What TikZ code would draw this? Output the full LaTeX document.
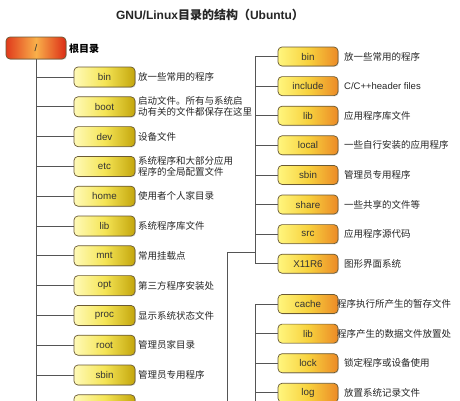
\documentclass[tikz,border=0pt]{standalone}
\usepackage{fontspec}
\setsansfont{Liberation Sans}
\newfontfamily\cjk{Noto Sans CJK SC}
\usetikzlibrary{shadows}
\definecolor{yl1}{HTML}{FFFAB8}
\definecolor{yl2}{HTML}{F5E556}
\definecolor{yl3}{HTML}{C4A60C}
\definecolor{yr1}{HTML}{FFF67E}
\definecolor{yr2}{HTML}{F8D23E}
\definecolor{yr3}{HTML}{EC8A26}
\definecolor{rt1}{HTML}{E03A1C}
\definecolor{rt2}{HTML}{F9B04A}
\definecolor{rt3}{HTML}{DC2C16}
\definecolor{boxline}{HTML}{6A5A34}
\definecolor{linegray}{HTML}{555555}
\begin{document}
\begin{tikzpicture}[x=1pt,y=-1pt,
  dirbox/.style={draw=boxline, line width=0.7pt, rounded corners=4pt,
    minimum width=61pt, minimum height=20pt, inner sep=0pt,
    font=\sffamily\fontsize{9.8}{11}\selectfont, text=black!80,
    drop shadow={shadow xshift=0.8pt, shadow yshift=-0.8pt, opacity=0.3}},
  lbox/.style={dirbox, left color=yl1, right color=yl3, middle color=yl2},
  rbox/.style={dirbox, minimum width=60pt, minimum height=19pt,
    left color=yr1, right color=yr3, middle color=yr2},
  rootbox/.style={dirbox, minimum width=60pt, minimum height=22pt,
    left color=rt1, right color=rt3, middle color=rt2},
  desc/.style={anchor=west, inner sep=1pt, align=left,
    font=\cjk\fontsize{9.5}{11}\selectfont, text=black!85},
  conn/.style={draw=linegray, line width=0.8pt}]
\useasboundingbox (0,0) rectangle (460,400);
\fill[white] (0,0) rectangle (460,400);
\clip (0,0) rectangle (460,400);

% title
\node[text=black!85] (title) at (210,15)
  {\sffamily\bfseries\fontsize{12}{14}\selectfont GNU/Linux{\cjk\bfseries 目录的结构（}Ubuntu{\cjk\bfseries ）}};

% root
\node[rootbox] (root) at (36,48) {/};
\node[anchor=west, inner sep=1pt, font=\cjk\bfseries\fontsize{10}{12}\selectfont] (rootlbl) at (68,49) {根目录};

% left children
\foreach \t/\d [count=\i] in {bin/{放一些常用的程序},
  boot/{启动文件。所有与系统启\\动有关的文件都保存在这里},
  dev/{设备文件},
  etc/{系统程序和大部分应用\\程序的全局配置文件},
  home/{使用者个人家目录},
  lib/{系统程序库文件},
  mnt/{常用挂载点},
  opt/{第三方程序安装处},
  proc/{显示系统状态文件},
  root/{管理员家目录},
  sbin/{管理员专用程序}}{
  \node[lbox] (L\i) at (104.5,{77+29.8*(\i-1)}) {\t};
  \node[desc] (Ld\i) at (137,{77+29.8*(\i-1)}) {\d};
  \draw[conn] (root.south |- L\i.west) -- (L\i.west);
}
\node[lbox] (L12) at (104.5,404.8) {};
\coordinate (ltend) at (36,410);
\draw[conn] (root.south) -- (ltend);

% right upper group
\coordinate (rt) at (255,0);
\foreach \t/\d [count=\i] in {bin/{放一些常用的程序},
  include/{\sffamily C/C++header files},
  lib/{应用程序库文件},
  local/{一些自行安装的应用程序},
  sbin/{管理员专用程序},
  share/{一些共享的文件等},
  src/{应用程序源代码},
  X11R6/{图形界面系统}}{
  \node[rbox] (R\i) at (308,{56.5+29.6*(\i-1)}) {\t};
  \node[desc] (Rd\i) at (343,{56.5+29.6*(\i-1)}) {\d};
  \draw[conn] (rt |- R\i.west) -- (R\i.west);
}
\draw[conn] (rt |- R1.west) -- (rt |- R8.west);
\coordinate (jn) at (255,252);
\coordinate (usrdown) at (227,410);
\draw[conn] (usrdown) |- (jn);

% right lower group
\foreach \t/\d/\lx [count=\i] in {cache/{程序执行所产生的暂存文件}/336,
  lib/{程序产生的数据文件放置处}/336,
  lock/{锁定程序或设备使用}/343,
  log/{放置系统记录文件}/343}{
  \node[rbox] (S\i) at (308,{304+29.6*(\i-1)}) {\t};
  \node[desc] (Sd\i) at (\lx,{304+29.6*(\i-1)}) {\d};
  \draw[conn] (rt |- S\i.west) -- (S\i.west);
}
\coordinate (stend) at (255,410);
\draw[conn] (rt |- S1.west) -- (stend);
\end{tikzpicture}
\end{document}
